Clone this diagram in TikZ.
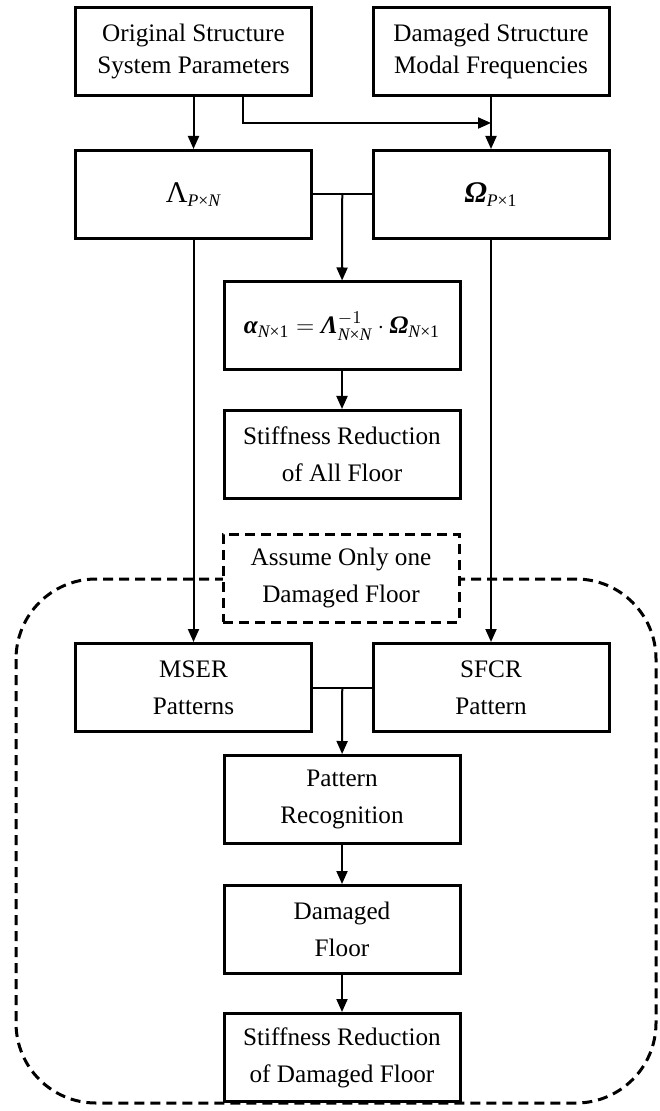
\documentclass[tikz,border=0pt]{standalone}
\usepackage{amsmath}
\usepackage{fontspec}
\setmainfont{Liberation Serif}
\usepackage{tikz}
\usetikzlibrary{arrows.meta,positioning,calc}

\newcommand{\bgr}[1]{\text{\bfseries\itshape #1}}
\newcommand{\dimsub}[2]{\text{\itshape #1\upshape ×\itshape #2}}
\newcommand{\bigsym}{\fontsize{15}{15}\selectfont}

\tikzset{
	blk/.style={draw, line width=1.5pt, minimum width=118pt, minimum height=44pt, align=center, inner sep=2pt, font=\fontsize{12.6}{18.5}\selectfont},
	link/.style={line width=1pt},
	arr/.style={link, -{Triangle[length=6.5pt,width=5.5pt]}},
	dsh/.style={line width=1.5pt, dash pattern=on 5pt off 3pt}
}

\begin{document}
\begin{tikzpicture}[x=0.5pt,y=-0.5pt]
		\useasboundingbox (0,0) rectangle (659,1111);

		% region of the one-floor assumption
		\draw[dsh, rounded corners=40pt] (16,579) rectangle (656,1103);

		\node[blk, font=\fontsize{12.6}{16}\selectfont] (orig) at (193.5,51.5) {Original Structure\\System Parameters};
		\node[blk, font=\fontsize{12.6}{16}\selectfont] (dmg) at (491,51.5) {Damaged Structure\\Modal Frequencies};
		\node[blk] (lam) at (193.5,194.5) {$\text{\bigsym Λ}_{\dimsub{P}{N}}$};
		\node[blk] (omg) at (491,194.5) {$\bgr{\bigsym Ω}_{\dimsub{P}{\upshape 1}}$};
		\node[blk] (alp) at (342,326) {$\bgr{α}_{\dimsub{N}{\upshape 1}} = \bgr{Λ}^{-1}_{\dimsub{N}{N}}\cdot\bgr{Ω}_{\dimsub{N}{\upshape 1}}$};
		\node[blk] (stf) at (342,454.5) {Stiffness Reduction\\of All Floor};
		\node[blk, dsh, fill=white] (asm) at (341,578) {Assume Only one\\Damaged Floor};
		\node[blk] (mser) at (193.5,687.5) {MSER\\Patterns};
		\node[blk] (sfcr) at (491,687.5) {SFCR\\Pattern};
		\node[blk] (rec) at (342,799.5) {Pattern\\Recognition};
		\node[blk] (flr) at (342,929.5) {Damaged\\Floor};
		\node[blk] (res) at (342,1057.5) {Stiffness Reduction\\of Damaged Floor};

		% upper part
		\coordinate (brk) at ($(orig.south)+(49.5,0)$);
		\coordinate (j1) at ($(lam.east)!0.5!(omg.west)$);
		\draw[arr] (orig) -- (lam);
		\draw[arr] (dmg) -- (omg);
		\draw[arr] (brk) |- ($(dmg.south)!0.5!(omg.north)$);
		\draw[link] (lam) -- (omg);
		\draw[arr] (j1) -- (alp);
		\draw[arr] (alp) -- (stf);

		% lower part
		\coordinate (j2) at ($(mser.east)!0.5!(sfcr.west)$);
		\draw[arr] (lam) -- (mser);
		\draw[arr] (omg) -- (sfcr);
		\draw[link] (mser) -- (sfcr);
		\draw[arr] (j2) -- (rec);
		\draw[arr] (rec) -- (flr);
		\draw[arr] (flr) -- (res);
	\end{tikzpicture}
\end{document}
